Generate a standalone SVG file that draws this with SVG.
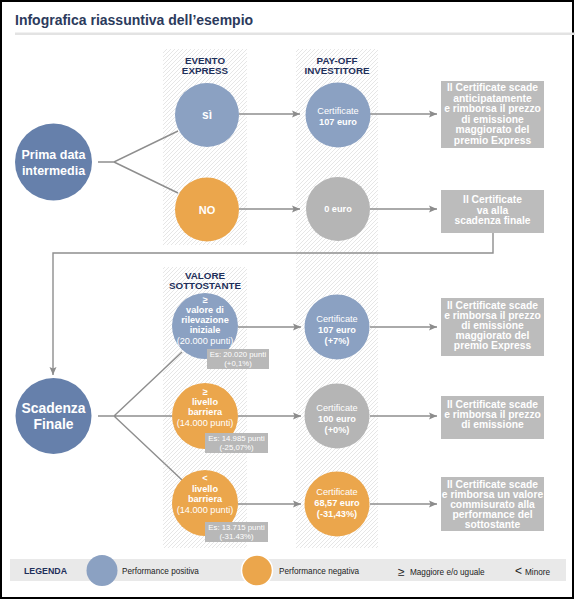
<svg xmlns="http://www.w3.org/2000/svg" width="575" height="600" viewBox="0 0 575 600">
<defs>
<pattern id="hatch" patternUnits="userSpaceOnUse" width="4" height="4">
<rect width="4" height="4" fill="#ffffff"/>
<path d="M-1,1 L1,-1 M0,4 L4,0 M3,5 L5,3" stroke="#e6e6e6" stroke-width="1"/>
</pattern>
<marker id="arr" markerUnits="userSpaceOnUse" markerWidth="9" markerHeight="8" refX="8" refY="4" orient="auto">
<path d="M0,0.5 L8,4 L0,7.5 L1.5,4 Z" fill="#8c8c8c"/>
</marker>
</defs>
<style>
.t{font-family:"Liberation Sans",Arial,sans-serif}
.b{font-weight:bold}
.w{fill:#ffffff}
.hdr{font-family:"Liberation Sans",Arial,sans-serif;font-weight:bold;font-size:9.8px;fill:#1e2f5a;text-anchor:middle}
.dk{fill:#6680ab}
.lb{fill:#8ba1c2}
.or{fill:#eba64c}
.gy{fill:#b5b5b5}
.box{fill:#bcbcbc}
.es{fill:#b8b8b8}
.ln{fill:none;stroke:#8e8e8e;stroke-width:1.4}
.bx{font-family:"Liberation Sans",Arial,sans-serif;font-weight:bold;font-size:10.3px;fill:#ffffff;text-anchor:middle}
.c9{font-family:"Liberation Sans",Arial,sans-serif;font-size:9.2px;fill:#ffffff;text-anchor:middle}
.c8{font-family:"Liberation Sans",Arial,sans-serif;font-size:7.8px;fill:#ffffff;text-anchor:middle}
.lg{font-family:"Liberation Sans",Arial,sans-serif;font-size:8.2px;fill:#222222}
</style>
<rect x="1" y="1" width="572" height="597" fill="#ffffff" stroke="#000000" stroke-width="2"/>
<text class="t b" x="15" y="25" font-size="14" fill="#2b3a5c">Infografica riassuntiva dell’esempio</text>
<rect x="15" y="32.5" width="560" height="2.5" fill="#e3e3e3"/>

<g id="columns">
<rect x="163" y="49" width="84" height="196" fill="url(#hatch)"/>
<rect x="163" y="267" width="84" height="281" fill="url(#hatch)"/>
<rect x="296" y="49" width="82" height="499" fill="url(#hatch)"/>
<text class="hdr" x="205" y="64">EVENTO</text>
<text class="hdr" x="205" y="74">EXPRESS</text>
<text class="hdr" x="337" y="64">PAY-OFF</text>
<text class="hdr" x="337" y="74">INVESTITORE</text>
<text class="hdr" x="205" y="279">VALORE</text>
<text class="hdr" x="205" y="289">SOTTOSTANTE</text>
</g>

<g id="connectors">
<path class="ln" d="M98,162 H114 L178,131 M114,162 L178,193"/>
<path class="ln" d="M239,114 H300" marker-end="url(#arr)"/>
<path class="ln" d="M239,209 H300" marker-end="url(#arr)"/>
<path class="ln" d="M370,114 H437" marker-end="url(#arr)"/>
<path class="ln" d="M370,209 H437" marker-end="url(#arr)"/>
<path class="ln" d="M493,233 V253 H53 V375" marker-end="url(#arr)"/>
<path class="ln" d="M98,416 H172 M114,416 L182,352 M114,416 L182,480"/>
<path class="ln" d="M238,327 H301" marker-end="url(#arr)"/>
<path class="ln" d="M238,416 H301" marker-end="url(#arr)"/>
<path class="ln" d="M238,504 H301" marker-end="url(#arr)"/>
<path class="ln" d="M370,327 H437" marker-end="url(#arr)"/>
<path class="ln" d="M370,416 H437" marker-end="url(#arr)"/>
<path class="ln" d="M370,504 H437" marker-end="url(#arr)"/>
</g>

<g id="prima">
<circle class="dk" cx="53.5" cy="162" r="38.5"/>
<text class="t b w" x="53.5" y="159" font-size="12.5" text-anchor="middle">Prima data</text>
<text class="t b w" x="53.5" y="175" font-size="12.5" text-anchor="middle">intermedia</text>
</g>
<g id="si">
<circle class="lb" cx="207" cy="115" r="32"/>
<text class="t b w" x="207" y="119" font-size="12" text-anchor="middle">sì</text>
</g>
<g id="no">
<circle class="or" cx="207" cy="209.5" r="32"/>
<text class="t b w" x="207" y="213.5" font-size="11" text-anchor="middle">NO</text>
</g>
<g id="cert107a">
<circle class="lb" cx="338" cy="115" r="32.5"/>
<text class="c9" x="338" y="113.5">Certificate</text>
<text class="c9 b" x="338" y="125">107 euro</text>
</g>
<g id="zero">
<circle class="gy" cx="338" cy="209" r="32"/>
<text class="c9 b" x="338" y="212">0 euro</text>
</g>
<g id="box1">
<rect class="box" x="441" y="81" width="103" height="67"/>
<text class="bx" x="492.5" y="91">Il Certificate scade</text>
<text class="bx" x="492.5" y="101.5">anticipatamente</text>
<text class="bx" x="492.5" y="112">e rimborsa il prezzo</text>
<text class="bx" x="492.5" y="122.5">di emissione</text>
<text class="bx" x="492.5" y="133">maggiorato del</text>
<text class="bx" x="492.5" y="143.5">premio Express</text>
</g>
<g id="box2">
<rect class="box" x="441" y="190" width="103" height="43"/>
<text class="bx" x="492.5" y="203">Il Certificate</text>
<text class="bx" x="492.5" y="213.5">va alla</text>
<text class="bx" x="492.5" y="224">scadenza finale</text>
</g>

<g id="scadenza">
<circle class="dk" cx="53.5" cy="416" r="38"/>
<text class="t b w" x="53.5" y="413" font-size="13.9" text-anchor="middle">Scadenza</text>
<text class="t b w" x="53.5" y="429" font-size="13.9" text-anchor="middle">Finale</text>
</g>
<g id="valA">
<circle class="lb" cx="205" cy="326" r="33"/>
<text class="c9 b" x="205" y="303">≥</text>
<text class="c9 b" x="205" y="313">valore di</text>
<text class="c9 b" x="205" y="323">rilevazione</text>
<text class="c9 b" x="205" y="333">iniziale</text>
<text class="c9" x="205" y="343.5">(20.000 punti)</text>
</g>
<g id="esA">
<rect class="es" x="207" y="349" width="62" height="20"/>
<text class="c8" x="238" y="357">Es: 20.020 punti</text>
<text class="c8" x="238" y="366">(+0,1%)</text>
</g>
<g id="valB">
<circle class="or" cx="205" cy="416" r="33"/>
<text class="c9 b" x="205" y="394.5">≥</text>
<text class="c9 b" x="205" y="405">livello</text>
<text class="c9 b" x="205" y="415">barriera</text>
<text class="c9" x="205" y="425.5">(14.000 punti)</text>
</g>
<g id="esB">
<rect class="es" x="205" y="433" width="63" height="20"/>
<text class="c8" x="236.5" y="441">Es: 14.985 punti</text>
<text class="c8" x="236.5" y="450">(-25,07%)</text>
</g>
<g id="valC">
<circle class="or" cx="205" cy="503" r="33"/>
<text class="c9 b" x="205" y="481">&lt;</text>
<text class="c9 b" x="205" y="492">livello</text>
<text class="c9 b" x="205" y="502">barriera</text>
<text class="c9" x="205" y="513">(14.000 punti)</text>
</g>
<g id="esC">
<rect class="es" x="205" y="522" width="63" height="20"/>
<text class="c8" x="236.5" y="530">Es: 13.715 punti</text>
<text class="c8" x="236.5" y="539">(-31.43%)</text>
</g>
<g id="cert107b">
<circle class="lb" cx="337" cy="327" r="32.5"/>
<text class="c9" x="337" y="322">Certificate</text>
<text class="c9 b" x="337" y="333">107 euro</text>
<text class="c9 b" x="337" y="344">(+7%)</text>
</g>
<g id="cert100">
<circle class="gy" cx="337" cy="416" r="32.5"/>
<text class="c9" x="337" y="411">Certificate</text>
<text class="c9 b" x="337" y="422">100 euro</text>
<text class="c9 b" x="337" y="433">(+0%)</text>
</g>
<g id="cert68">
<circle class="or" cx="337" cy="504" r="32.5"/>
<text class="c9" x="337" y="495">Certificate</text>
<text class="c9 b" x="337" y="506">68,57 euro</text>
<text class="c9 b" x="337" y="517">(-31,43%)</text>
</g>
<g id="box3">
<rect class="box" x="441" y="298" width="103" height="58"/>
<text class="bx" x="492.5" y="309">Il Certificate scade</text>
<text class="bx" x="492.5" y="319">e rimborsa il prezzo</text>
<text class="bx" x="492.5" y="329">di emissione</text>
<text class="bx" x="492.5" y="339">maggiorato del</text>
<text class="bx" x="492.5" y="349">premio Express</text>
</g>
<g id="box4">
<rect class="box" x="441" y="396" width="103" height="43"/>
<text class="bx" x="492.5" y="408">Il Certificate scade</text>
<text class="bx" x="492.5" y="418">e rimborsa il prezzo</text>
<text class="bx" x="492.5" y="428">di emissione</text>
</g>
<g id="box5">
<rect class="box" x="441" y="477" width="103" height="54"/>
<text class="bx" x="492.5" y="487.5">Il Certificate scade</text>
<text class="bx" x="492.5" y="497.5">e rimborsa un valore</text>
<text class="bx" x="492.5" y="507.5">commisurato alla</text>
<text class="bx" x="492.5" y="517.5">performance del</text>
<text class="bx" x="492.5" y="527.5">sottostante</text>
</g>

<g id="legend">
<rect x="10" y="559" width="556" height="22" fill="#e9e9e9"/>
<text class="t b" x="24" y="574" font-size="8.8" fill="#1e2f5a">LEGENDA</text>
<circle class="lb" cx="102" cy="570.5" r="15.5"/>
<text class="lg" x="122" y="573.5">Performance positiva</text>
<circle class="or" cx="257" cy="570.5" r="15.5" stroke="#ffffff" stroke-width="1.5"/>
<text class="lg" x="279" y="573.5">Performance negativa</text>
<text class="t" x="398" y="575.5" font-size="12" fill="#222222">≥</text>
<text class="lg" x="410" y="574.5">Maggiore e/o uguale</text>
<text class="t" x="515" y="575" font-size="12" fill="#222222">&lt;</text>
<text class="lg" x="525" y="574.5">Minore</text>
</g>
</svg>
